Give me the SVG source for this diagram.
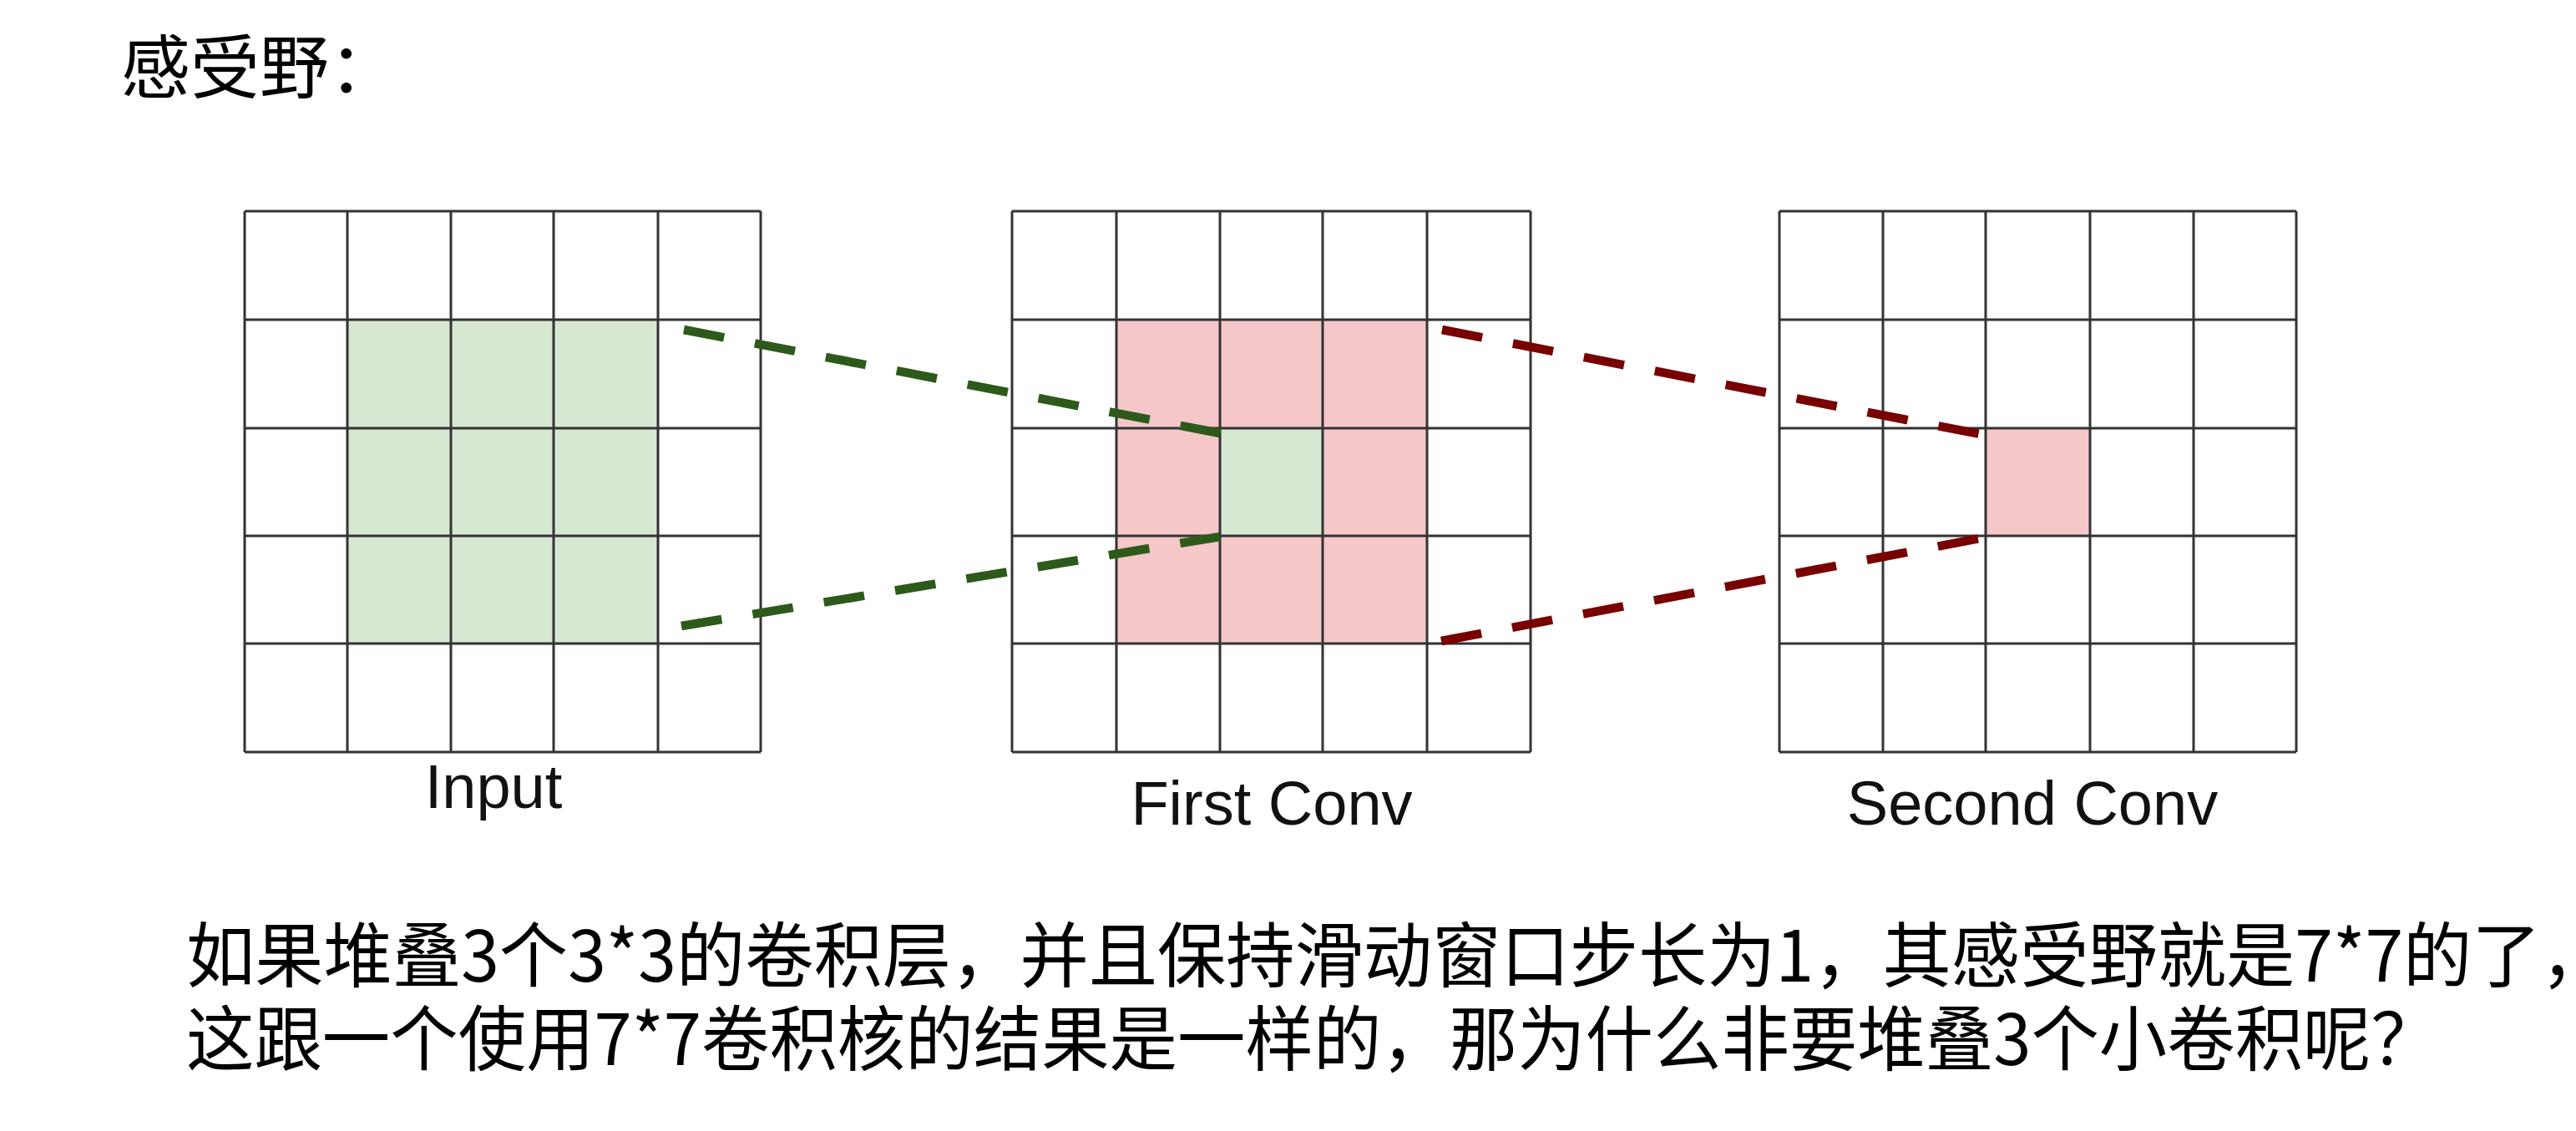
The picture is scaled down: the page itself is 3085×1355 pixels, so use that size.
<svg xmlns="http://www.w3.org/2000/svg" width="3085" height="1355" viewBox="0 0 3085 1355">
<style>
.grid{fill:none;stroke:#333;stroke-width:3}
.g{fill:#d6e7d2}
.p{fill:#f5c7c9}
.cjk{font-family:"Noto Sans CJK SC","Noto Sans",sans-serif;fill:#000}
.lbl{font-family:"Liberation Sans",Arial,sans-serif;font-size:74px;fill:#111;text-anchor:middle}
.dg{stroke:#2d5a1b;stroke-width:10.5;stroke-dasharray:49 37.5;fill:none}
.dr{stroke:#780000;stroke-width:10.5;stroke-dasharray:49 37.5;fill:none}
</style>
<rect width="3085" height="1355" fill="#fff"/>
<text id="title" class="cjk" x="145" y="111" font-size="83">感受野：</text>

<g id="input">
<rect class="g" x="416" y="383" width="372" height="388"/>
<path class="grid" d="M293 253V901M416 253V901M540 253V901M663 253V901M788 253V901M911 253V901M293 253H911M293 383H911M293 513H911M293 642H911M293 771H911M293 901H911"/>
<text class="lbl" x="591" y="968">Input</text>
</g>

<g id="first-conv">
<rect class="p" x="1337" y="383" width="372" height="388"/>
<rect class="g" x="1461" y="513" width="123" height="129"/>
<path class="grid" d="M1212 253V901M1337 253V901M1461 253V901M1584 253V901M1709 253V901M1833 253V901M1212 253H1833M1212 383H1833M1212 513H1833M1212 642H1833M1212 771H1833M1212 901H1833"/>
<text class="lbl" x="1523" y="988">First Conv</text>
</g>

<g id="second-conv">
<rect class="p" x="2378" y="513" width="125" height="129"/>
<path class="grid" d="M2131 253V901M2255 253V901M2378 253V901M2503 253V901M2627 253V901M2750 253V901M2131 253H2750M2131 383H2750M2131 513H2750M2131 642H2750M2131 771H2750M2131 901H2750"/>
<text class="lbl" x="2434" y="988">Second Conv</text>
</g>

<g id="connectors">
<line class="dg" x1="819" y1="395" x2="1461" y2="519"/>
<line class="dg" x1="816" y1="750" x2="1461" y2="643"/>
<line class="dr" x1="1727" y1="395" x2="2371" y2="520"/>
<line class="dr" x1="1726" y1="768" x2="2371" y2="645"/>
</g>

<g id="question" class="cjk" font-size="85">
<text x="223" y="1176" textLength="2902" lengthAdjust="spacingAndGlyphs">如果堆叠3个3*3的卷积层，并且保持滑动窗口步长为1，其感受野就是7*7的了，</text>
<text x="223" y="1276" textLength="2698" lengthAdjust="spacingAndGlyphs">这跟一个使用7*7卷积核的结果是一样的，那为什么非要堆叠3个小卷积呢？</text>
</g>
</svg>
